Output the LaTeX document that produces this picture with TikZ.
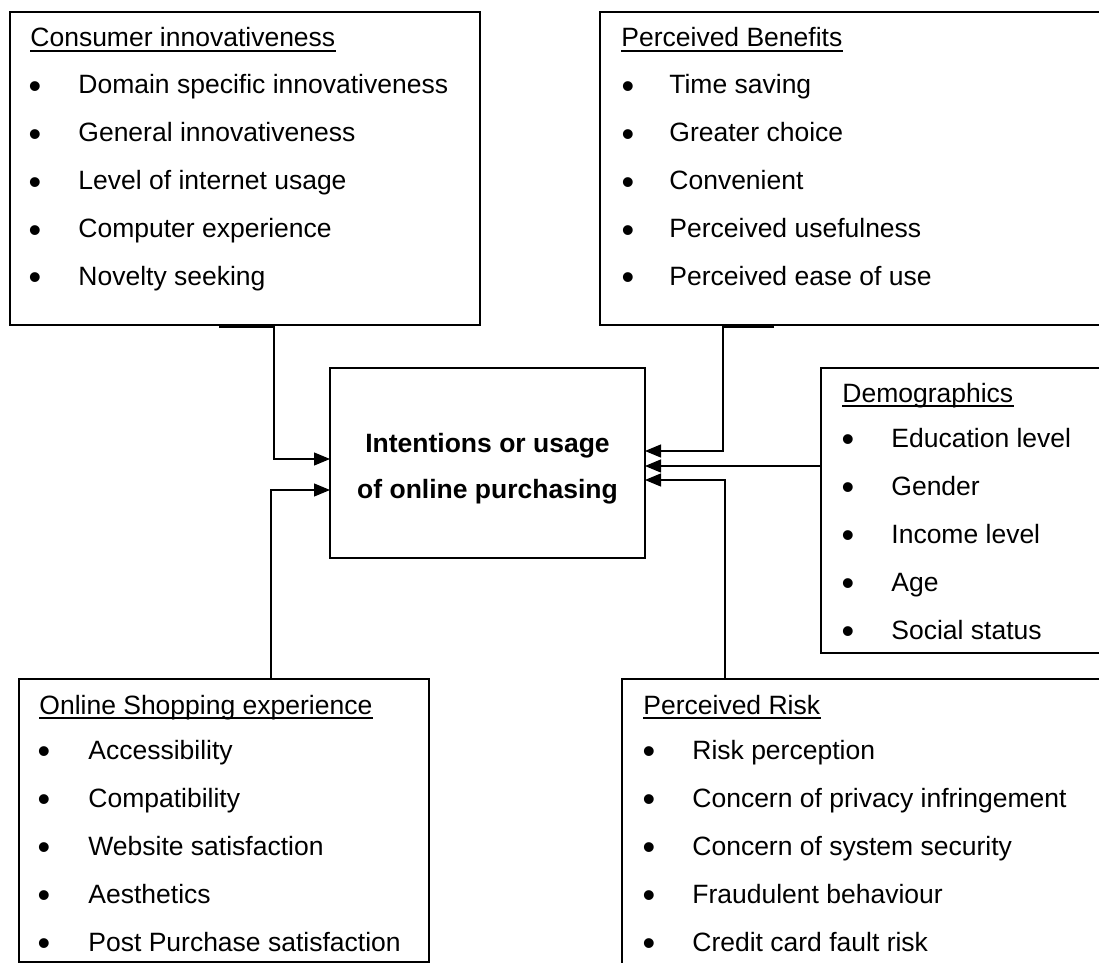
\documentclass[tikz,border=0pt]{standalone}
\usepackage{fontspec}
\setmainfont{Liberation Sans}
\usetikzlibrary{arrows.meta,fit}
\tikzset{
  box/.style={draw, line width=0.6pt, inner sep=0pt, outer sep=0pt},
  txt/.style={anchor=base west, inner sep=0pt, font=\fontsize{13.25pt}{16pt}\selectfont},
  bul/.style={anchor=base, inner sep=0pt, yshift=-2.4pt, font=\fontsize{18pt}{20pt}\selectfont},
  mtxt/.style={anchor=base, inner sep=0pt, font=\fontsize{13.25pt}{16pt}\selectfont\bfseries},
  ul/.style={line width=0.7pt},
  conn/.style={line width=0.6pt},
  arr/.style={conn, -{Triangle[length=8pt,width=6.5pt]}},
}
\begin{document}
\begin{tikzpicture}[x=0.5pt,y=-0.5pt]
\useasboundingbox (0,0) rectangle (1099,963);
\fill[white] (0,0) rectangle (1099,963);
\clip (0,0) rectangle (1099,963);

% boxes
\node[box, fit={(10,12) (480,325)}] (ci) {};
\node[box, fit={(600,12) (1112,325)}] (pb) {};
\node[box, fit={(821,368) (1112,653)}] (dm) {};
\node[box, fit={(330,368) (645,558)}] (mid) {};
\node[box, fit={(19,679) (429,962)}] (os) {};
\node[box, fit={(622,679) (1112,990)}] (pr) {};

% central text
\node[mtxt] (mt1) at (487.5,452) {Intentions or usage};
\node[mtxt] (mt2) at (487.5,498) {of online purchasing};

\begin{scope}
\clip (0,0) rectangle (1099,954);
% Consumer innovativeness
\node[txt] (cih) at (30,47) {Consumer innovativeness};
\draw[ul] ([yshift=-2pt]cih.base west) -- ([yshift=-2pt]cih.base east);
\foreach \t [count=\i] in {Domain specific innovativeness, General innovativeness, Level of internet usage, Computer experience, Novelty seeking}{
  \node[bul] (cib\i) at (35,{94+47.8*(\i-1)}) {•};
  \node[txt] (ci\i) at (78,{94+47.8*(\i-1)}) {\t};
}
% Perceived Benefits
\node[txt] (pbh) at (621,47) {Perceived Benefits};
\draw[ul] ([yshift=-2pt]pbh.base west) -- ([yshift=-2pt]pbh.base east);
\foreach \t [count=\i] in {Time saving, Greater choice, Convenient, Perceived usefulness, Perceived ease of use}{
  \node[bul] (pbb\i) at (628,{94+47.8*(\i-1)}) {•};
  \node[txt] (pb\i) at (669,{94+47.8*(\i-1)}) {\t};
}
% Demographics
\node[txt] (dmh) at (842,402) {Demographics};
\draw[ul] ([yshift=-2pt]dmh.base west) -- ([yshift=-2pt]dmh.base east);
\foreach \t [count=\i] in {Education level, Gender, Income level, Age, Social status}{
  \node[bul] (dmb\i) at (848,{447+48*(\i-1)}) {•};
  \node[txt] (dm\i) at (891,{447+48*(\i-1)}) {\t};
}
% Online Shopping experience
\node[txt] (osh) at (39,714) {Online Shopping experience};
\draw[ul] ([yshift=-2pt]osh.base west) -- ([yshift=-2pt]osh.base east);
\foreach \t [count=\i] in {Accessibility, Compatibility, Website satisfaction, Aesthetics, Post Purchase satisfaction}{
  \node[bul] (osb\i) at (44,{759+48*(\i-1)}) {•};
  \node[txt] (os\i) at (88,{759+48*(\i-1)}) {\t};
}
% Perceived Risk
\node[txt] (prh) at (643,714) {Perceived Risk};
\draw[ul] ([yshift=-2pt]prh.base west) -- ([yshift=-2pt]prh.base east);
\foreach \t [count=\i] in {Risk perception, Concern of privacy infringement, Concern of system security, Fraudulent behaviour, Credit card fault risk}{
  \node[bul] (prb\i) at (649,{759+48*(\i-1)}) {•};
  \node[txt] (pr\i) at (692,{759+48*(\i-1)}) {\t};
}
\end{scope}

% connector points
\coordinate (s1) at (219,327); \coordinate (b1) at (274,327); \coordinate (k1) at (274,459);
\coordinate (s2) at (261,679); \coordinate (b2) at (271,679); \coordinate (k2) at (271,490);
\coordinate (s3) at (774,327); \coordinate (b3) at (723,327); \coordinate (k3) at (723,451);
\coordinate (k4) at (821,466);
\coordinate (s5) at (735,679); \coordinate (b5) at (725,679); \coordinate (k5) at (725,480);

\draw[arr] (s1) -- (b1) -- (k1) -- (k1 -| mid.west);
\draw[arr] (s2) -- (b2) -- (k2) -- (k2 -| mid.west);
\draw[arr] (s3) -- (b3) -- (k3) -- (k3 -| mid.east);
\draw[arr] (k4 -| dm.west) -- (k4 -| mid.east);
\draw[arr] (s5) -- (b5) -- (k5) -- (k5 -| mid.east);
\end{tikzpicture}
\end{document}
